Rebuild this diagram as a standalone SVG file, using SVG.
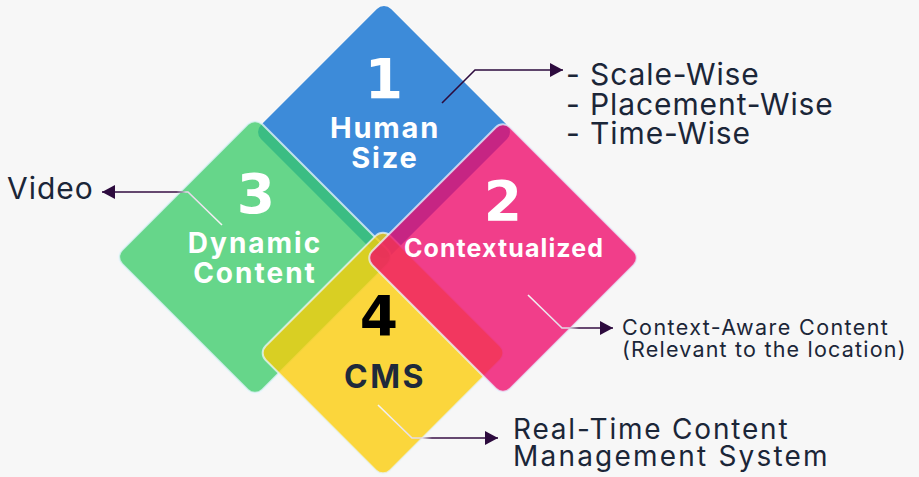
<svg xmlns="http://www.w3.org/2000/svg" width="919" height="477" viewBox="0 0 919 477">
<style>
.dia{stroke:#EAF6FF;stroke-opacity:0.75;stroke-width:2}
.num{font-family:"DejaVu Sans",sans-serif;font-weight:bold;font-size:55px;text-anchor:middle}
.lab{font-family:Inter,"Noto Sans",sans-serif;font-weight:700;text-anchor:middle;fill:#FFFFFF}
.note{font-family:Inter,"Noto Sans",sans-serif;font-weight:400;fill:#1B2638}
.con{fill:none;stroke-width:1.6}
</style>
<defs>
<marker id="arr" markerUnits="userSpaceOnUse" markerWidth="14" markerHeight="14" refX="13" refY="7" orient="auto">
<path d="M0,0 L13,7 L0,14 z" fill="#2D0B3E"/>
</marker>
<linearGradient id="gG" gradientUnits="userSpaceOnUse" x1="222" y1="0" x2="102" y2="0">
<stop offset="0" stop-color="#F4F4F4"/><stop offset="0.3" stop-color="#E6D6EA"/><stop offset="0.38" stop-color="#3A1046"/><stop offset="1" stop-color="#2D0B3E"/>
</linearGradient>
<linearGradient id="gP" gradientUnits="userSpaceOnUse" x1="528" y1="0" x2="613" y2="0">
<stop offset="0" stop-color="#F4F4F4"/><stop offset="0.48" stop-color="#E0D6E4"/><stop offset="0.6" stop-color="#3A1046"/><stop offset="1" stop-color="#2D0B3E"/>
</linearGradient>
<linearGradient id="gY" gradientUnits="userSpaceOnUse" x1="378" y1="0" x2="498" y2="0">
<stop offset="0" stop-color="#F4F4F4"/><stop offset="0.37" stop-color="#E0D6E4"/><stop offset="0.45" stop-color="#3A1046"/><stop offset="1" stop-color="#2D0B3E"/>
</linearGradient>
</defs>
<rect width="919" height="477" fill="#F7F7F7"/>

<g id="node-blue">
<rect x="-92" y="-92" width="184" height="184" rx="10" transform="translate(384,132) rotate(45)" fill="#3D8BD9"/>
</g>
<g id="node-green">
<rect x="-99" y="-99" width="198" height="198" rx="10" transform="translate(255,257) rotate(45)" fill="#3ACC69" fill-opacity="0.77" class="dia"/>
</g>
<g id="node-yellow">
<rect x="-88" y="-88" width="176" height="176" rx="10" transform="translate(383,353) rotate(45)" fill="#FDCC04" fill-opacity="0.77" class="dia"/>
</g>
<g id="node-pink">
<rect x="-97.5" y="-97.5" width="195" height="195" rx="10" transform="translate(503,258) rotate(45)" fill="#EF0669" fill-opacity="0.77" class="dia"/>
</g>

<g id="labels-blue">
<text class="num" x="384" y="98" fill="#FFFFFF">1</text>
<text class="lab" x="385" y="138" font-size="29" letter-spacing="1.8">Human</text>
<text class="lab" x="385" y="168" font-size="29" letter-spacing="1.8">Size</text>
</g>
<g id="labels-pink">
<text class="num" x="503" y="220" fill="#FFFFFF">2</text>
<text class="lab" x="504" y="257" font-size="25" letter-spacing="1.1">Contextualized</text>
</g>
<g id="labels-green">
<text class="num" x="256" y="213" fill="#FFFFFF">3</text>
<text class="lab" x="255" y="253" font-size="28" letter-spacing="2">Dynamic</text>
<text class="lab" x="255" y="283" font-size="28" letter-spacing="2">Content</text>
</g>
<g id="labels-yellow">
<text class="num" x="379" y="335" fill="#000000">4</text>
<text class="lab" x="385" y="388" font-size="32" letter-spacing="2.5" style="fill:#1E2A3B">CMS</text>
</g>

<g id="connectors">
<path class="con" d="M442,103 L475,70 L563,70" stroke="#2D0B3E" marker-end="url(#arr)"/>
<path class="con" d="M222,225 L188,192 L102,192" stroke="url(#gG)" marker-end="url(#arr)"/>
<path class="con" d="M528,295 L562,328 L613,328" stroke="url(#gP)" marker-end="url(#arr)"/>
<path class="con" d="M378,405 L412,438 L498,438" stroke="url(#gY)" marker-end="url(#arr)"/>
</g>

<g id="notes">
<text class="note" x="566" y="85" font-size="30" letter-spacing="0.9">- Scale-Wise</text>
<text class="note" x="566" y="115" font-size="30" letter-spacing="0.9">- Placement-Wise</text>
<text class="note" x="566" y="144" font-size="30" letter-spacing="0.9">- Time-Wise</text>
<text class="note" x="7" y="199" font-size="30" letter-spacing="1">Video</text>
<text class="note" x="622" y="335" font-size="21.5" letter-spacing="1.4">Context-Aware Content</text>
<text class="note" x="622" y="357" font-size="21.5" letter-spacing="1.2">(Relevant to the location)</text>
<text class="note" x="513" y="439" font-size="28" letter-spacing="1.8">Real-Time Content</text>
<text class="note" x="513" y="466" font-size="28" letter-spacing="2.2">Management System</text>
</g>
</svg>
